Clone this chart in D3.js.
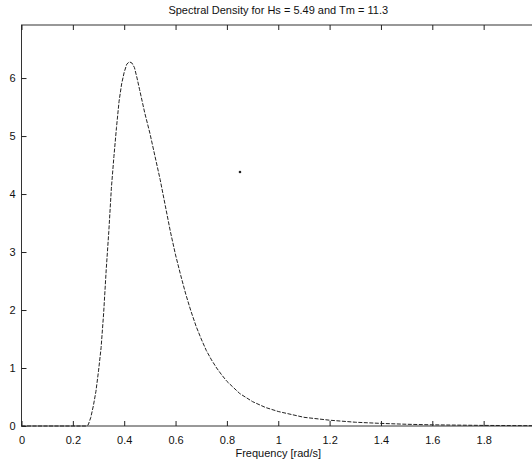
<!DOCTYPE html>
<html>
<head>
<meta charset="utf-8">
<script src="https://cdn.jsdelivr.net/npm/d3@7"></script>
<style>
  body { margin: 0; background: #fff; }
  svg { display: block; font-family: "Liberation Sans", Arial, sans-serif; }
</style>
</head>
<body>
<div id="chart-area"></div>
<script>
// spectrum
var freq = [0, 0.1, 0.2, 0.25, 0.26, 0.27, 0.28, 0.29, 0.30, 0.31, 0.32, 0.33, 0.34, 0.35,
    0.36, 0.37, 0.38, 0.39, 0.40, 0.41, 0.42, 0.43, 0.44, 0.45, 0.46, 0.47, 0.48, 0.50,
    0.52, 0.54, 0.56, 0.58, 0.60, 0.62, 0.64, 0.66, 0.68, 0.70, 0.72, 0.74, 0.76, 0.78,
    0.80, 0.85, 0.90, 0.95, 1.0, 1.1, 1.2, 1.3, 1.4, 1.5, 1.6, 1.8, 2.0];
var density = [0, 0, 0, 0, 0.02, 0.15, 0.35, 0.6, 0.95, 1.35, 1.95, 2.7, 3.35, 4.1,
    4.65, 5.15, 5.6, 5.9, 6.1, 6.24, 6.28, 6.26, 6.18, 6.0, 5.8, 5.6, 5.4, 5.05,
    4.65, 4.25, 3.8, 3.35, 2.95, 2.6, 2.27, 1.98, 1.72, 1.5, 1.3, 1.14, 1.0, 0.88,
    0.77, 0.56, 0.42, 0.32, 0.25, 0.15, 0.1, 0.065, 0.045, 0.03, 0.02, 0.01, 0.005];

// stray dot on the plot
var strayX = [0.851];
var strayY = [4.38];

var xTicks = [0, 0.2, 0.4, 0.6, 0.8, 1, 1.2, 1.4, 1.6, 1.8];
var yTicks = [0, 1, 2, 3, 4, 5, 6];

var title = "Spectral Density for Hs = 5.49 and Tm = 11.3";
var xLabel = "Frequency [rad/s]";

var margin = { left: 21.5, top: 25 },
    width = 513.5,
    height = 401;

var svg = d3.select("#chart-area").append("svg")
    .attr("width", 532)
    .attr("height", 462);

var g = svg.append("g")
    .attr("transform", "translate(" + margin.left + "," + margin.top + ")");

var x = d3.scaleLinear()
    .domain([0, 2])
    .range([0, width]);

var y = d3.scaleLinear()
    .domain([0, 6.915])
    .range([height, 0]);

// frame
g.append("rect")
    .attr("width", width)
    .attr("height", height)
    .attr("fill", "none")
    .attr("stroke", "#333")
    .attr("stroke-width", 1);

// X Axis (ticks inward)
var xAxisCall = d3.axisBottom(x)
    .tickValues(xTicks)
    .tickSize(-5)
    .tickPadding(10)
    .tickFormat(function(d){ return d3.format("")(d); });
g.append("g")
    .attr("class", "x axis")
    .attr("transform", "translate(0," + height + ")")
    .call(xAxisCall);

// top ticks
g.append("g")
    .attr("class", "x axis top")
    .call(d3.axisTop(x).tickValues(xTicks).tickSize(-5).tickFormat(""));

// Y Axis
var yAxisCall = d3.axisLeft(y)
    .tickValues(yTicks)
    .tickSize(-5)
    .tickPadding(6)
    .tickFormat(d3.format("d"));
g.append("g")
    .attr("class", "y axis")
    .call(yAxisCall);

g.selectAll(".axis .domain").remove();
g.selectAll(".axis line").attr("stroke", "#222");
g.selectAll(".axis text")
    .attr("font-size", "11px")
    .attr("fill", "#111")
    .attr("font-family", "Liberation Sans, Arial, sans-serif");

// curve
var line = d3.line()
    .x(function(d){ return x(d[0]); })
    .y(function(d){ return y(d[1]); });

g.append("path")
    .datum(d3.zip(freq, density))
    .attr("d", line)
    .attr("fill", "none")
    .attr("stroke", "#222")
    .attr("stroke-width", 1)
    .attr("stroke-dasharray", "4,1.5");

g.selectAll(".stray")
    .data(d3.zip(strayX, strayY))
    .enter().append("circle")
    .attr("class", "stray")
    .attr("cx", function(d){ return x(d[0]); })
    .attr("cy", function(d){ return y(d[1]); })
    .attr("r", 1.3)
    .attr("fill", "#222");

// Title
g.append("text")
    .attr("x", width / 2)
    .attr("y", -11)
    .attr("font-size", "11px")
    .attr("text-anchor", "middle")
    .attr("fill", "#111")
    .text(title);

// X Label
g.append("text")
    .attr("x", width / 2)
    .attr("y", height + 31)
    .attr("font-size", "11px")
    .attr("text-anchor", "middle")
    .attr("fill", "#111")
    .text(xLabel);
</script>
</body>
</html>
